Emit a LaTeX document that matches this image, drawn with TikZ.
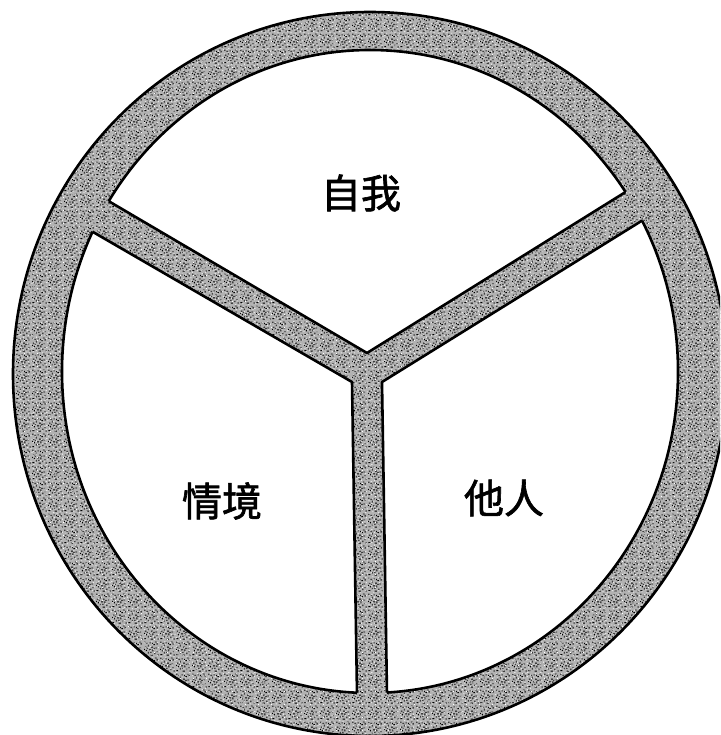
\documentclass[tikz,border=0pt]{standalone}
\usepackage{fontspec}
\newfontfamily\cjk[FakeBold=1.6]{Noto Sans CJK SC}
\usetikzlibrary{patterns}
\pgfdeclarepatternformonly{speckle}{\pgfqpoint{0pt}{0pt}}{\pgfqpoint{16pt}{16pt}}{\pgfqpoint{16pt}{16pt}}{%
  \foreach \a/\b/\c/\d in {0.5/1/2/1,4/2.5/1/2,7/0.5/2.5/1,11/2/1/1.5,13/4/1.5/1,2/5/1/1.5,5.5/6/2/1,9/5/1/2,12/8/2/1,1/9/1.5/1,4/10/1/2,7.5/9/2/1,10/11.5/1.5/1,13.5/12/1/2,2.5/13/2/1,6/13.5/1/1,8.5/12.5/1/1.5,0/6.5/0.8/1,14.5/0.5/1/1.2,10/7.5/1.2/1,6.5/3.5/1.5/0.8,3/7.5/0.8/1.2,11.5/14.5/2/0.8,0.5/14/1/1.2}{%
    \pgfpathrectangle{\pgfpoint{\a pt}{\b pt}}{\pgfpoint{\c pt}{\d pt}}}%
  \pgfusepath{fill}}
\pgfdeclarepatternformonly{wspeck}{\pgfqpoint{0pt}{0pt}}{\pgfqpoint{13pt}{13pt}}{\pgfqpoint{13pt}{13pt}}{%
  \foreach \a/\b/\c/\d in {1/2/1.5/0.8,5/1/0.8/1.2,9/3/1.2/0.8,3/6/1/1,7/7.5/1.5/0.8,11/9/0.8/1.2,2/10.5/1.2/0.8,6/11/0.8/1,10/0.5/1/0.8,12/5.5/0.8/1,0.5/7/0.8/0.8,8/12/1/0.8}{%
    \pgfpathrectangle{\pgfpoint{\a pt}{\b pt}}{\pgfpoint{\c pt}{\d pt}}}%
  \pgfusepath{fill}}
\tikzset{
  outline/.style={line width=2.6pt, line join=round, black},
  label/.style={font=\cjk\fontsize{40}{40}\selectfont, inner sep=0pt}
}
\begin{document}
\begin{tikzpicture}[x=1pt,y=-1pt]
\useasboundingbox (0,0) rectangle (720,735);
\clip (0,0) rectangle (720,735);
% key points
\coordinate (N) at (367,353);
\coordinate (C1) at (352,382);
\coordinate (C2) at (382,382);
\coordinate (LA) at (0.2,137.4);
\coordinate (LB) at (-10.6,172);
\coordinate (RA) at (738,122);
\coordinate (RB) at (747.4,155.2);
\coordinate (SL) at (358.7,800);
\coordinate (SR) at (388.7,800);
\coordinate (O) at (370,374);
\coordinate (I) at (370,371.5);
% textured ring and Y
\fill[black!30] (O) ellipse [x radius=357pt, y radius=362pt];
\fill[pattern=speckle, pattern color=black] (O) ellipse [x radius=357pt, y radius=362pt];
\fill[pattern=wspeck, pattern color=white] (O) ellipse [x radius=357pt, y radius=362pt];
% top region
\begin{scope}
  \clip (I) ellipse [x radius=308pt, y radius=321.5pt];
  \fill[white] (N) -- (LA) -- (0,-50) -- (740,-50) -- (RA) -- cycle;
  \draw[outline] (LA) -- (N) -- (RA);
\end{scope}
\begin{scope}
  \clip (N) -- (LA) -- (0,-50) -- (740,-50) -- (RA) -- cycle;
  \draw[outline] (I) ellipse [x radius=308pt, y radius=321.5pt];
\end{scope}
% left region
\begin{scope}
  \clip (I) ellipse [x radius=308pt, y radius=321.5pt];
  \fill[white] (C1) -- (LB) -- (-60,172) -- (-60,800) -- (SL) -- cycle;
  \draw[outline] (LB) -- (C1) -- (SL);
\end{scope}
\begin{scope}
  \clip (C1) -- (LB) -- (-60,172) -- (-60,800) -- (SL) -- cycle;
  \draw[outline] (I) ellipse [x radius=308pt, y radius=321.5pt];
\end{scope}
% right region
\begin{scope}
  \clip (I) ellipse [x radius=308pt, y radius=321.5pt];
  \fill[white] (C2) -- (RB) -- (800,155) -- (800,800) -- (SR) -- cycle;
  \draw[outline] (RB) -- (C2) -- (SR);
\end{scope}
\begin{scope}
  \clip (C2) -- (RB) -- (800,155) -- (800,800) -- (SR) -- cycle;
  \draw[outline] (I) ellipse [x radius=308pt, y radius=321.5pt];
\end{scope}
% outer outline
\draw[outline] (O) ellipse [x radius=357pt, y radius=362pt];
% labels
\node[label] (self) at (361,193) {自我};
\node[label] (situ) at (222,501) {情境};
\node[label] (other) at (504,498) {他人};
\end{tikzpicture}
\end{document}
